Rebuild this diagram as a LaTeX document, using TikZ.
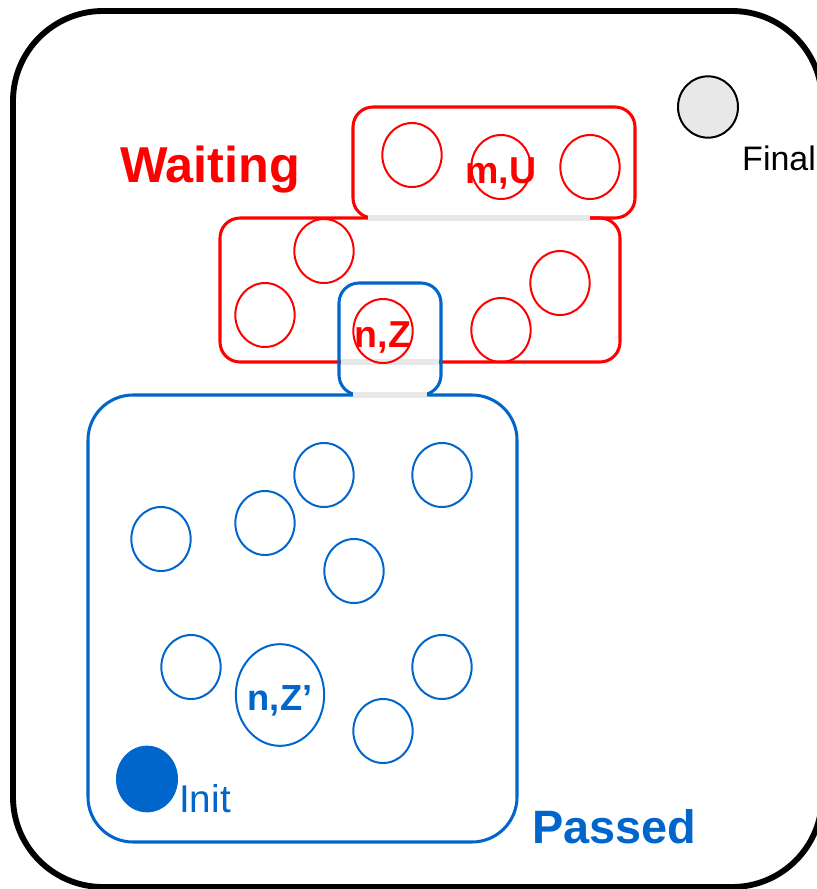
\documentclass[tikz,border=0pt]{standalone}
\usepackage{fontspec}
\setmainfont{Liberation Sans}
\usepackage{xcolor}
\usepackage{tikz}
\usetikzlibrary{shapes.geometric}

\definecolor{passblue}{RGB}{0,102,204}
\definecolor{seamgray}{RGB}{232,232,232}

\begin{document}
\begin{tikzpicture}[x=0.03cm, y=-0.03cm,
  every node/.style={font=\fontsize{31}{31}\selectfont, inner sep=0pt},
  state/.style={ellipse, draw, line width=1.7pt, minimum width=1.78cm, minimum height=1.92cm},
  wstate/.style={state, draw=red},
  pstate/.style={state, draw=passblue},
  region/.style={line width=2.6pt, rounded corners=0.6cm},
  seam/.style={seamgray, line width=4.3pt},
  setname/.style={font=\fontsize{43}{43}\selectfont\bfseries},
  statename/.style={font=\fontsize{32}{32}\selectfont\bfseries}]
\useasboundingbox (0,0) rectangle (817,889);
% whole state space
\draw[line width=5pt, rounded corners=2.7cm] (13,11) rectangle (822,887);
\node[state, draw=black, fill=seamgray, minimum width=1.8cm, minimum height=1.84cm] (final) at (708,107) {};
\node[font=\fontsize{29}{29}\selectfont, anchor=base west] (finaltxt) at (742,170) {Final};
% waiting list (two boxes)
\draw[region, red] (353,107) rectangle (635,218);
\draw[region, red] (220,218) rectangle (620,362);
\node[setname, red, anchor=base west] (waiting) at (120,182) {Waiting};
% passed list
\draw[region, passblue] (339,283) rectangle (441,395);
\draw[region, passblue, rounded corners=1.35cm] (88,395) rectangle (517,842);
\node[setname, passblue, font=\fontsize{40}{40}\selectfont\bfseries, anchor=base west] (passed) at (532,843) {Passed};
% seams where boxes meet
\draw[seam] (368,218) -- (590,218);
\draw[seam] (341,362) -- (439,362);
\draw[seam] (353,395) -- (427,395);
% waiting states
\node[wstate] (w1) at (412,155) {};
\node[wstate] (mU) at (501,167) {};
\node[wstate] (w2) at (590,167) {};
\node[statename, red, anchor=base] at (501,183) {m,U};
\node[wstate] (w3) at (324,251) {};
\node[wstate] (w4) at (265,315) {};
\node[wstate] (w5) at (560,283) {};
\node[wstate] (w6) at (501,330) {};
\node[wstate] (nZ) at (383,331) {};
\node[statename, red, anchor=base] at (383,347) {n,Z};
% passed states
\node[pstate] (p1) at (161,539) {};
\node[pstate] (p2) at (265,523) {};
\node[pstate] (p3) at (324,475) {};
\node[pstate] (p4) at (442,475) {};
\node[pstate] (p5) at (354,571) {};
\node[pstate] (p6) at (191,667) {};
\node[pstate] (p7) at (442,667) {};
\node[pstate] (p8) at (383,731) {};
\node[pstate, minimum width=2.65cm, minimum height=3.05cm] (nZp) at (280,695) {};
\node[statename, passblue, font=\fontsize{31}{31}\selectfont\bfseries, anchor=base] at (280,710) {n,Z’};
% initial state
\node[ellipse, fill=passblue, minimum width=1.86cm, minimum height=2.0cm] (init) at (147,779) {};
\node[passblue, font=\fontsize{33}{33}\selectfont, anchor=base west] (inittxt) at (179,812) {Init};
\end{tikzpicture}
\end{document}
